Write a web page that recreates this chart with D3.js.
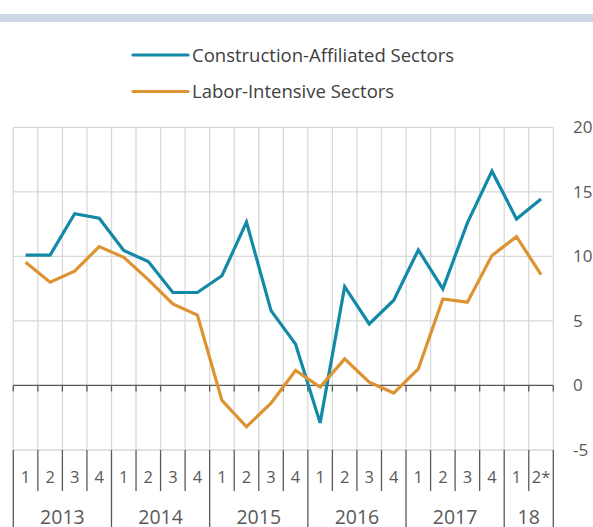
<!DOCTYPE html>
<html>
<head>
<meta charset="utf-8">
<script src="https://cdn.jsdelivr.net/npm/d3@7"></script>
<style>
  body { margin: 0; background: #fff; }
  text { font-family: "Open Sans", Lato, sans-serif; fill: #595959; }
</style>
</head>
<body>
<script>
// quarter labels and year groups
var quarters = ["1","2","3","4","1","2","3","4","1","2","3","4","1","2","3","4","1","2","3","4","1","2*"];
var years = ["2013","2014","2015","2016","2017","18"];
var yearSpans = [4, 4, 4, 4, 4, 2];

// series values (percent)
var construction = [10.1, 10.1, 13.3, 12.95, 10.45, 9.6, 7.2, 7.2, 8.5, 12.65, 5.8, 3.2, -2.9, 7.65, 4.77, 6.6, 10.5, 7.48, 12.6, 16.6, 12.9, 14.45];
var labor = [9.55, 8.0, 8.85, 10.76, 9.93, 8.2, 6.32, 5.45, -1.16, -3.2, -1.37, 1.16, -0.13, 2.06, 0.26, -0.59, 1.29, 6.7, 6.45, 10.06, 11.53, 8.59];

var yTicks = [-5, 0, 5, 10, 15, 20];

var seriesNames = ["Construction-Affiliated Sectors", "Labor-Intensive Sectors"];
var seriesColors = ["#1289a7", "#de9332"];

var width = 593, height = 527;

var svg = d3.select("body").append("svg")
  .attr("width", width)
  .attr("height", height);

// top band
svg.append("rect")
  .attr("x", 0).attr("y", 14)
  .attr("width", width).attr("height", 8)
  .attr("fill", "#cdd8e4");

var x = d3.scaleBand()
  .domain(d3.range(quarters.length))
  .range([13.3, 553.3]);

var y = d3.scaleLinear()
  .domain([-5, 20])
  .range([450, 127.3]);

// horizontal gridlines
svg.append("g").selectAll("line")
  .data(yTicks.filter(function(d) { return d !== 0; }))
  .enter().append("line")
  .attr("x1", x.range()[0]).attr("x2", x.range()[1])
  .attr("y1", function(d) { return y(d); })
  .attr("y2", function(d) { return y(d); })
  .attr("stroke", "#d9d9d9")
  .attr("stroke-width", 1.3);

// vertical gridlines at category boundaries
var bounds = d3.range(quarters.length + 1).map(function(i) { return x.range()[0] + i * x.bandwidth(); });
svg.append("g").selectAll("line")
  .data(bounds)
  .enter().append("line")
  .attr("x1", function(d) { return d; }).attr("x2", function(d) { return d; })
  .attr("y1", y(20)).attr("y2", y(-5))
  .attr("stroke", "#d9d9d9")
  .attr("stroke-width", 1.3);

// zero axis with ticks
svg.append("line")
  .attr("x1", x.range()[0]).attr("x2", x.range()[1])
  .attr("y1", y(0)).attr("y2", y(0))
  .attr("stroke", "#595959").attr("stroke-width", 1.3);
svg.append("g").selectAll("line")
  .data(bounds)
  .enter().append("line")
  .attr("x1", function(d) { return d; }).attr("x2", function(d) { return d; })
  .attr("y1", y(0)).attr("y2", y(0) + 6)
  .attr("stroke", "#595959").attr("stroke-width", 1.3);

// right axis labels
svg.append("g").selectAll("text")
  .data(yTicks)
  .enter().append("text")
  .attr("x", 573)
  .attr("y", function(d) { return y(d) + 6; })
  .attr("font-size", 17)
  .text(function(d) { return d; });

// category box separators
var yearStarts = [0];
yearSpans.forEach(function(s, i) { yearStarts.push(yearStarts[i] + s); });
svg.append("g").selectAll("line")
  .data(d3.range(quarters.length + 1))
  .enter().append("line")
  .attr("x1", function(i) { return bounds[i]; }).attr("x2", function(i) { return bounds[i]; })
  .attr("y1", y(-5))
  .attr("y2", function(i) { return yearStarts.indexOf(i) >= 0 ? height : 491; })
  .attr("stroke", "#595959").attr("stroke-width", 1.3);

// quarter labels
svg.append("g").selectAll("text")
  .data(quarters)
  .enter().append("text")
  .attr("x", function(d, i) { return x(i) + x.bandwidth() / 2; })
  .attr("y", 483)
  .attr("text-anchor", "middle")
  .attr("font-size", 16.5)
  .text(function(d) { return d; });

// year labels
svg.append("g").selectAll("text")
  .data(years)
  .enter().append("text")
  .attr("x", function(d, i) { return (bounds[yearStarts[i]] + bounds[yearStarts[i + 1]]) / 2; })
  .attr("y", 523.5)
  .attr("text-anchor", "middle")
  .attr("font-size", 19.5)
  .text(function(d) { return d; });

// lines
var line = d3.line()
  .x(function(d, i) { return x(i) + x.bandwidth() / 2; })
  .y(function(d) { return y(d); });

[construction, labor].forEach(function(s, k) {
  svg.append("path")
    .datum(s)
    .attr("d", line)
    .attr("fill", "none")
    .attr("stroke", seriesColors[k])
    .attr("stroke-width", 3.2)
    .attr("stroke-linejoin", "miter");
});

// legend
var legend = svg.selectAll(".legend")
  .data(seriesNames)
  .enter().append("g")
  .attr("class", "legend")
  .attr("transform", function(d, i) { return "translate(133," + (55 + i * 36.5) + ")"; });
legend.append("line")
  .attr("x1", 0).attr("x2", 55)
  .attr("stroke", function(d, i) { return seriesColors[i]; })
  .attr("stroke-width", 3.2)
  .attr("stroke-linecap", "round");
legend.append("text")
  .attr("x", 59).attr("y", 6.5)
  .attr("font-size", 18.5)
  .style("fill", "#404040")
  .text(function(d) { return d; });
</script>
</body>
</html>
